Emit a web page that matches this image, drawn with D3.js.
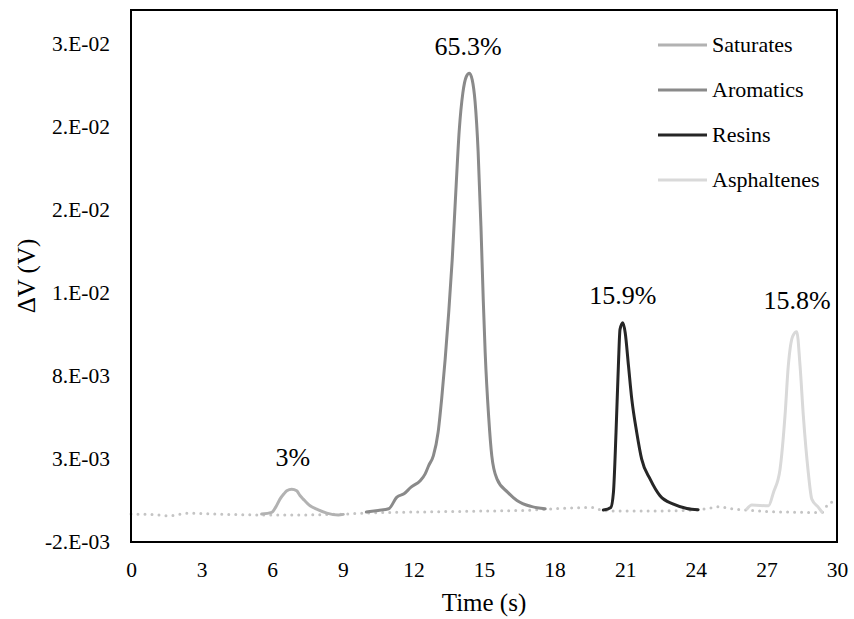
<!DOCTYPE html>
<html>
<head>
<meta charset="utf-8">
<script src="https://cdn.jsdelivr.net/npm/d3@7"></script>
</head>
<body style="margin:0">
<svg id="chart" width="854" height="619" font-family="Liberation Serif"></svg>
<script>
// x ticks and y ticks (Excel style "0.E+00" labels)
const xTicks = [0, 3, 6, 9, 12, 15, 18, 21, 24, 27, 30];
const yTicks = [-0.002, 0.003, 0.008, 0.013, 0.018, 0.023, 0.028];
const yTickLabels = ['-2.E-03', '3.E-03', '8.E-03', '1.E-02', '2.E-02', '2.E-02', '3.E-02'];

// baseline (dotted)
const baseT = [0, 1, 1.6, 2.5, 3, 4, 5, 6, 7, 8, 9, 10, 11, 12, 13, 14, 15, 16, 17, 18, 19, 19.6, 20.1, 21, 22, 23, 24, 24.6, 25, 25.5, 26.2, 27, 28, 29, 29.35, 29.7, 30];
const baseV = [-0.00032, -0.00036, -0.00042, -0.00026, -0.00028, -0.00034, -0.00036, -0.00038, -0.00038, -0.00036, -0.00032, -0.00026, -0.00022, -0.0002, -0.00018, -0.00016, -0.00014, -0.00012, -0.00008, 0.0, 0.00006, 0.00008, -0.00012, -0.00014, -0.00014, -0.00012, -0.00008, 0.00004, 0.00012, 0.0, -0.00008, -0.00016, -0.0002, -0.00022, -0.00022, 0.00038, 0.0004];

const satT = [5.55, 5.98, 6.15, 6.33, 6.5, 6.62, 6.83, 7.04, 7.18, 7.32, 7.61, 7.89, 8.32, 8.81, 9.02];
const satV = [-0.00032, -0.00022, 0.0001, 0.00058, 0.0009, 0.00108, 0.00118, 0.00108, 0.0008, 0.00058, 0.00018, -0.00002, -0.00026, -0.00038, -0.00034];

const aroT = [10.0, 10.5, 10.95, 11.3, 11.6, 11.9, 12.3, 12.5, 12.65, 12.85, 13.05, 13.2, 13.35, 13.5, 13.65, 13.8, 13.95, 14.1, 14.25, 14.38, 14.5, 14.62, 14.75, 14.87, 14.97, 15.05, 15.2, 15.33, 15.55, 16.0, 16.4, 17.0, 17.6];
const aroV = [-0.0002, -0.0001, 0.0, 0.0007, 0.0009, 0.0013, 0.0017, 0.0021, 0.0026, 0.0032, 0.0046, 0.0066, 0.009, 0.0118, 0.015, 0.019, 0.0228, 0.025, 0.026, 0.0262, 0.0258, 0.0245, 0.0215, 0.017, 0.0125, 0.0094, 0.0055, 0.0032, 0.0018, 0.001, 0.0005, 0.00014, 0.0];

const resT = [20.07, 20.39, 20.5, 20.61, 20.71, 20.78, 20.9, 21.0, 21.14, 21.28, 21.49, 21.7, 22.06, 22.48, 23.05, 23.62, 24.1];
const resV = [-0.00008, 0.00008, 0.00098, 0.00459, 0.00859, 0.01079, 0.01119, 0.01059, 0.00859, 0.00659, 0.00459, 0.00298, 0.00178, 0.00078, 0.00028, 0.00002, -0.00006];

const aspT = [26.17, 26.38, 27.09, 27.3, 27.58, 27.79, 27.93, 28.12, 28.29, 28.43, 28.57, 28.78, 28.93, 29.21, 29.35];
const aspV = [-0.00002, 0.00022, 0.00018, 0.00098, 0.00238, 0.00558, 0.00859, 0.01039, 0.01065, 0.00859, 0.00558, 0.00218, 0.00058, 0.00008, -0.00018];

const seriesNames = ['Saturates', 'Aromatics', 'Resins', 'Asphaltenes'];
const seriesColors = ['#b2b2b2', '#8a8a8a', '#262626', '#d9d9d9'];
const seriesData = [[satT, satV], [aroT, aroV], [resT, resV], [aspT, aspV]];

// peak labels
const peakLabels = ['3%', '65.3%', '15.9%', '15.8%'];
const peakLabelT = [6.88, 14.32, 20.9, 28.3];
const peakLabelV = [0.0026, 0.0273, 0.0123, 0.012];

let width = 854;
let height = 619;
let margin = {left: 131, top: 10, right: 17, bottom: 77};

let svg = d3.select('#chart');

let x = d3.scaleLinear().domain([0, 30]).range([margin.left, width - margin.right]);
let y = d3.scaleLinear().domain([-0.002, 0.030]).range([height - margin.bottom, margin.top]);

let zip = (ts, vs) => ts.map((t, i) => ({t: t, v: vs[i]}));

let line = d3.line()
  .x(d => x(d.t))
  .y(d => y(d.v))
  .curve(d3.curveMonotoneX);

// axes (no tick marks, just labels)
let xAxis = svg.append('g')
  .attr('transform', 'translate(0,' + (height - margin.bottom) + ')')
  .call(d3.axisBottom(x).tickValues(xTicks).tickSize(0).tickPadding(20).tickFormat(d3.format('d')));
xAxis.select('.domain').remove();
xAxis.attr('font-family', 'Liberation Serif').attr('font-size', 21.5);
xAxis.selectAll('text').attr('fill', '#000').style('font-family', 'Liberation Serif');

let yAxis = svg.append('g')
  .attr('transform', 'translate(' + margin.left + ',0)')
  .call(d3.axisLeft(y).tickValues(yTicks).tickSize(0).tickPadding(21)
    .tickFormat((d, i) => yTickLabels[i]));
yAxis.select('.domain').remove();
yAxis.attr('font-family', 'Liberation Serif').attr('font-size', 21.5);
yAxis.selectAll('text').attr('fill', '#000').style('font-family', 'Liberation Serif');

// baseline
svg.append('path')
  .datum(zip(baseT, baseV))
  .attr('d', line)
  .attr('fill', 'none')
  .attr('stroke', '#c4c4c4')
  .attr('stroke-width', 3)
  .attr('stroke-linecap', 'round')
  .attr('stroke-dasharray', '0 7');

// series
seriesData.forEach((s, i) => {
  svg.append('path')
    .datum(zip(s[0], s[1]))
    .attr('d', line)
    .attr('fill', 'none')
    .attr('stroke', seriesColors[i])
    .attr('stroke-width', 3)
    .attr('stroke-linejoin', 'round')
    .attr('stroke-linecap', 'round');
});

// frame
svg.append('rect')
  .attr('x', margin.left)
  .attr('y', margin.top)
  .attr('width', width - margin.left - margin.right)
  .attr('height', height - margin.top - margin.bottom)
  .attr('fill', 'none')
  .attr('stroke', '#000')
  .attr('stroke-width', 2);

// peak labels
svg.append('g').selectAll('text')
  .data(peakLabels)
  .enter().append('text')
  .attr('x', (d, i) => x(peakLabelT[i]))
  .attr('y', (d, i) => y(peakLabelV[i]))
  .attr('text-anchor', 'middle')
  .style('font-family', 'Liberation Serif')
  .style('font-size', '26px')
  .text(d => d);

// legend
let legend = svg.append('g').attr('transform', 'translate(658,45)');
seriesNames.forEach((name, i) => {
  let row = legend.append('g').attr('transform', 'translate(0,' + (i * 45) + ')');
  row.append('line')
    .attr('x1', 0).attr('x2', 49)
    .attr('stroke', seriesColors[i])
    .attr('stroke-width', 3);
  row.append('text')
    .attr('x', 54)
    .attr('y', 7)
    .style('font-family', 'Liberation Serif')
    .style('font-size', '22px')
    .text(name);
});

// axis titles
svg.append('text')
  .attr('x', (margin.left + width - margin.right) / 2)
  .attr('y', 611)
  .attr('text-anchor', 'middle')
  .style('font-family', 'Liberation Serif')
  .style('font-size', '25px')
  .text('Time (s)');

svg.append('text')
  .attr('transform', 'translate(35,' + ((margin.top + height - margin.bottom) / 2) + ') rotate(-90)')
  .attr('text-anchor', 'middle')
  .style('font-family', 'Liberation Serif')
  .style('font-size', '25px')
  .text('ΔV (V)');
</script>
</body>
</html>
